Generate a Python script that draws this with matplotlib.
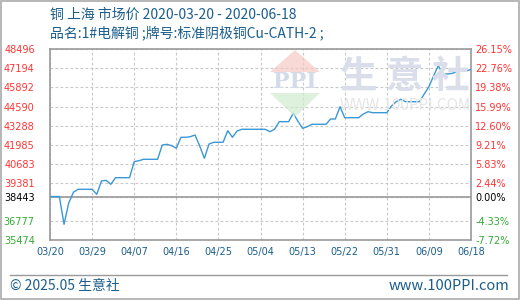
import matplotlib
matplotlib.use("Agg")
import matplotlib.pyplot as plt
import matplotlib.dates as mdates
from matplotlib.patches import Polygon, Rectangle
from matplotlib.lines import Line2D
import pandas as pd

plt.rcParams["font.family"] = ["Noto Sans CJK SC", "DejaVu Sans"]

title = "铜 上海 市场价 2020-03-20 - 2020-06-18"
subtitle = "品名:1#电解铜 ;牌号:标准阴极铜Cu-CATH-2 ;"
dates = pd.date_range("2020-03-20", "2020-06-18", freq="D")
prices = [
    38443, 38443, 38443, 36547, 38002, 38732, 38937, 38937, 38937, 38937,
    38595, 39504, 39551, 39278, 39729, 39729, 39729, 39729, 40821, 40890,
    40985, 40985, 40985, 40985, 41962, 42009, 41914, 41736, 42487, 42487,
    42528, 42644, 41900, 41053, 42030, 42146, 42146, 42146, 42938, 42487,
    42918, 43034, 43034, 43034, 43034, 43034, 43034, 42870, 43034, 43553,
    43553, 43553, 44126, 43580, 43102, 43211, 43375, 43375, 43375, 43375,
    43737, 43737, 44577, 43826, 43826, 43826, 43826, 44078, 44235, 44167,
    44167, 44167, 44167, 44625, 44918, 45082, 44918, 44918, 44918, 44918,
    45444, 45942, 46673, 47376, 46810, 46810, 46857, 46967, 47035, 47015,
    47130,
]
base = 38443
y_ticks = [48496, 47194, 45892, 44590, 43288, 41985, 40683, 39381, 38443, 36777, 35474]
x_ticks = pd.date_range("2020-03-20", "2020-06-18", freq="9D")

blue_text = "#1b5e8c"
red = "#ff3333"
green = "#33aa33"

fig = plt.figure(figsize=(5.2, 3.0), dpi=100)
ax = fig.add_axes([50 / 520, 0.2, 421 / 520, (240 - 49.3) / 300])

# watermark
fig.patches.append(Polygon([[270 / 520, 1 - 72 / 300], [320 / 520, 1 - 72 / 300], [295 / 520, 1 - 50 / 300]],
                           closed=True, transform=fig.transFigure, fc="#f6c9c4", ec="none", alpha=0.7, zorder=0))
fig.patches.append(Polygon([[270 / 520, 1 - 93 / 300], [320 / 520, 1 - 93 / 300], [295 / 520, 1 - 117 / 300]],
                           closed=True, transform=fig.transFigure, fc="#cfeccf", ec="none", alpha=0.7, zorder=0))
fig.text(295 / 520, 1 - 82 / 300, "PPI", ha="center", va="center", fontsize=16, color="#d3dbe8",
         family="DejaVu Serif", fontweight="bold", zorder=0)
fig.text(405 / 520, 1 - 76 / 300, "生 意 社", ha="center", va="center", fontsize=27, color="#d9deea",
         fontweight="bold", zorder=0)
fig.text(405 / 520, 1 - 106 / 300, "WWW.100PPI.COM", ha="center", va="center", fontsize=11, color="#e6e6e6",
         zorder=0)
ax.set_facecolor("none")

ax.plot(dates, prices, color="#3a98d6", lw=1.0, zorder=3)
ax.axhline(base, color="#999999", lw=1.2, zorder=2)

ax.set_xlim(dates[0], dates[-1])
ax.set_ylim(y_ticks[-1], y_ticks[0])
ax.set_xticks(x_ticks)
ax.xaxis.set_major_formatter(mdates.DateFormatter("%m/%d"))
ax.set_yticks(y_ticks)
ax.grid(True, color="#c8c8c8", ls=(0, (2.5, 2)), lw=0.8)
for s in ax.spines.values():
    s.set_color("#999999")
    s.set_linewidth(1.2)
ax.tick_params(length=0, labelsize=7, pad=5)
for lbl in ax.get_xticklabels():
    lbl.set_color(blue_text)
    lbl.set_family("DejaVu Sans")


def tick_color(v):
    if v > base:
        return red
    if v < base:
        return green
    return "black"


ax.set_yticklabels([str(v) for v in y_ticks], family="DejaVu Sans")
for lbl, v in zip(ax.get_yticklabels(), y_ticks):
    lbl.set_color(tick_color(v))
ax.tick_params(axis="y", pad=11)

ax2 = ax.twinx()
ax2.set_ylim(ax.get_ylim())
ax2.set_yticks(y_ticks)
ax2.set_yticklabels([f"{(v / base - 1) * 100:.2f}%" for v in y_ticks], family="DejaVu Sans")
for lbl, v in zip(ax2.get_yticklabels(), y_ticks):
    lbl.set_color(tick_color(v))
ax2.tick_params(length=0, labelsize=7, pad=3)
for s in ax2.spines.values():
    s.set_visible(False)

fig.text(50 / 520, 1 - 15 / 300, title, ha="left", va="center", fontsize=10, color=blue_text)
fig.text(50 / 520, 1 - 33 / 300, subtitle, ha="left", va="center", fontsize=10, color=blue_text)

fig.lines.append(Line2D([10 / 520, 507 / 520], [1 - 275 / 300] * 2, transform=fig.transFigure, color="#999999", lw=1))
fig.text(10 / 520, 1 - 286 / 300, "© 2025.05 生意社", ha="left", va="center", fontsize=10, color=blue_text)
fig.text(509 / 520, 1 - 286 / 300, "www.100PPI.com", ha="right", va="center", fontsize=10.5, color=blue_text)
fig.patches.append(Rectangle((0.001, 0.002), 0.997, 0.995, transform=fig.transFigure, fill=False,
                             ec="#aaaaaa", lw=1.2))

fig.savefig("out.png", dpi=100)
